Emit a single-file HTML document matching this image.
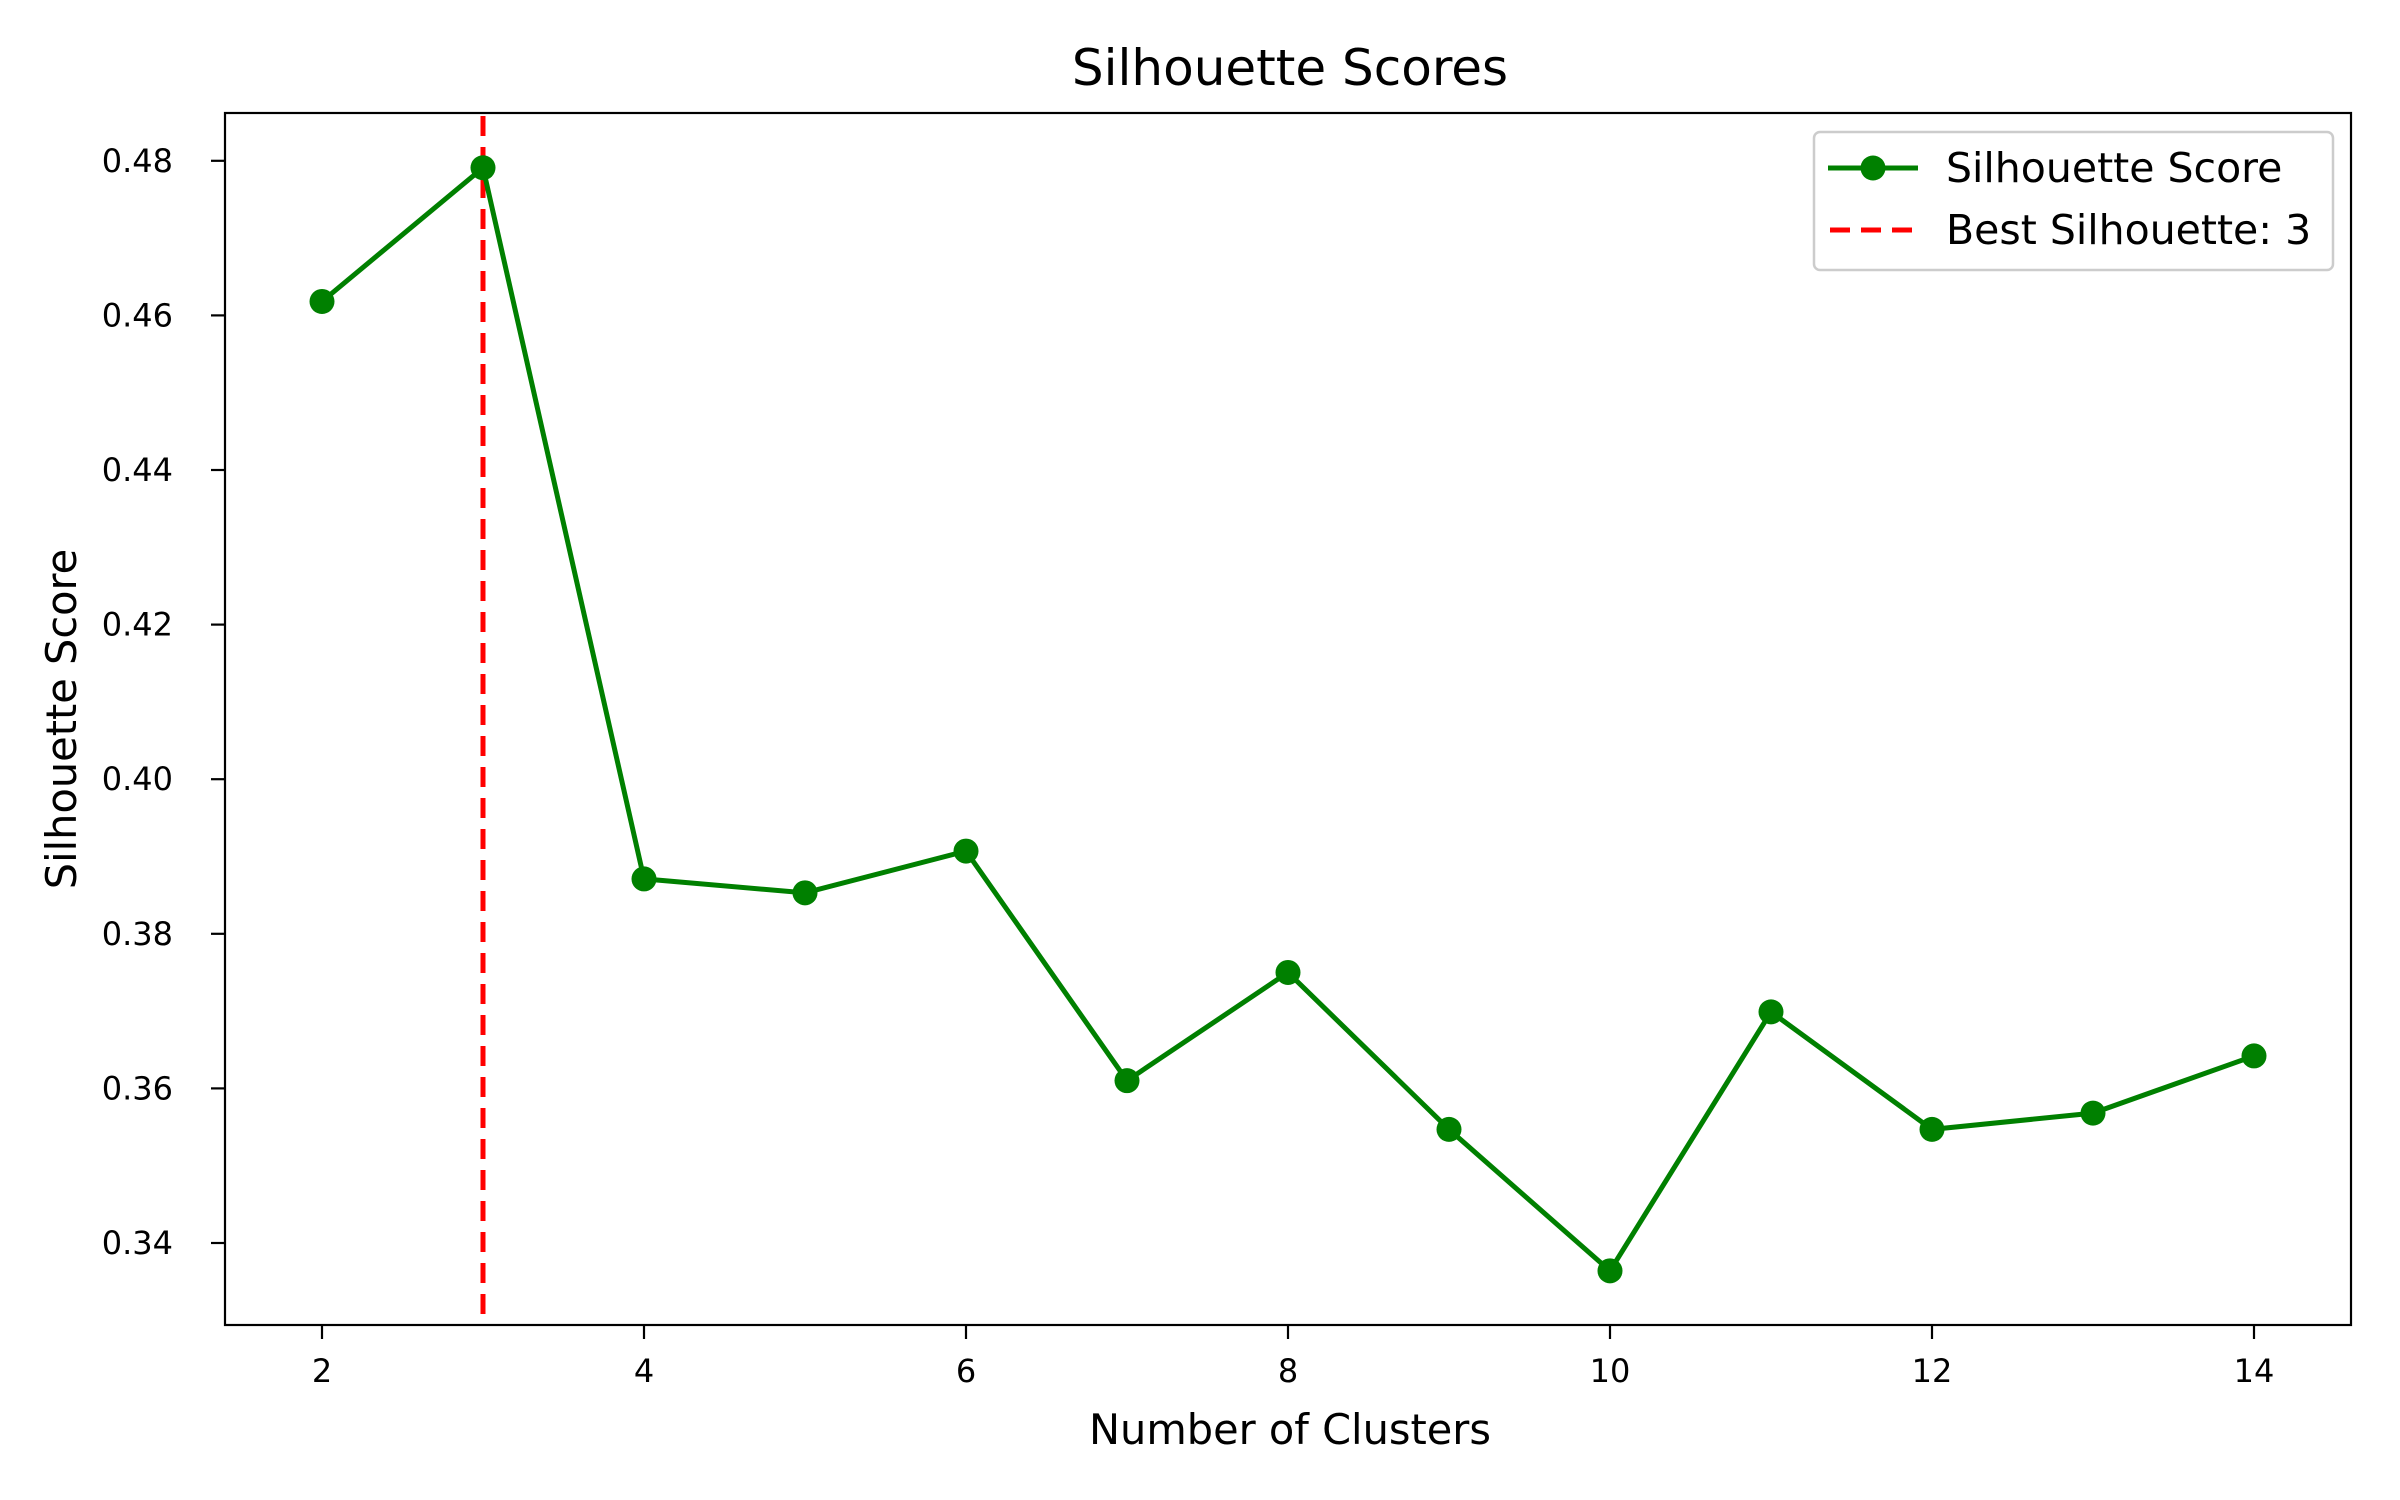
<!DOCTYPE html>
<html><head><meta charset="utf-8"><style>
html,body{margin:0;padding:0;background:#fff;}
svg{display:block;font-family:"DejaVu Sans","Liberation Sans",sans-serif;}
</style></head><body>
<svg id="chart" width="2400" height="1500" viewBox="0 0 2400 1500">
<rect width="2400" height="1500" fill="#fff"/>
<text x="1290" y="85" font-size="50" text-anchor="middle">Silhouette Scores</text>
<g id="grid"></g>
<g id="marks"></g>
<rect x="225" y="113" width="2126" height="1212" fill="none" stroke="#000" stroke-width="2.2"/>
<text x="1290" y="1444" font-size="41.5" text-anchor="middle">Number of Clusters</text>
<text transform="translate(76,719) rotate(-90)" font-size="41.5" text-anchor="middle">Silhouette Score</text>
<g>
<rect x="1814" y="132" width="519" height="138" rx="6" fill="#fff" fill-opacity="0.8" stroke="#ccc" stroke-width="2.5"/>
<g>
<line x1="1828" y1="168" x2="1918" y2="168" stroke="#008000" stroke-width="5"/>
<circle cx="1873" cy="168" r="12.5" fill="#008000"/>
<text x="1946" y="182" font-size="41">Silhouette Score</text>
</g>
<g>
<line x1="1830" y1="230" x2="1916" y2="230" stroke="#ff0000" stroke-width="5" stroke-dasharray="20,11"/>
<text x="1946" y="244" font-size="41">Best Silhouette: 3</text>
</g>
</g>
</svg>
<script>
const clusters=[2,3,4,5,6,7,8,9,10,11,12,13,14];
const scores=[0.4618,0.4791,0.3871,0.3853,0.3907,0.3610,0.3750,0.3547,0.3364,0.3699,0.3547,0.3568,0.3642];
const bestK=3;
const xTicks=[2,4,6,8,10,12,14];
const yTicks=[0.34,0.36,0.38,0.40,0.42,0.44,0.46,0.48];
const NS='http://www.w3.org/2000/svg';
function xs(v){return 322+(v-2)*161;}
function ys(v){return 1243-(v-0.34)/0.02*154.6;}
function mk(t,a,p){const e=document.createElementNS(NS,t);for(const k in a)e.setAttribute(k,a[k]);p.appendChild(e);return e;}
const g=document.getElementById('grid');
xTicks.forEach(v=>{
 const tk=mk('line',{x1:xs(v),x2:xs(v),y1:1325,y2:1339,stroke:'#000','stroke-width':2.2},g);
 
 
 const t=mk('text',{x:xs(v),y:1382,'font-size':32,'text-anchor':'middle'},g);t.textContent=v;
 
 
});
yTicks.forEach(v=>{
 const tk=mk('line',{x1:211,x2:225,y1:ys(v),y2:ys(v),stroke:'#000','stroke-width':2.2},g);
 
 
 const t=mk('text',{x:173,y:ys(v)+11,'font-size':32,'text-anchor':'end'},g);t.textContent=v.toFixed(2);
 
 
});
const m=document.getElementById('marks');
const bl=mk('line',{x1:xs(bestK),x2:xs(bestK),y1:116,y2:1324,stroke:'#ff0000','stroke-width':5,'stroke-dasharray':'20,11'},m);


const pl=mk('polyline',{points:clusters.map((c,i)=>xs(c)+','+ys(scores[i])).join(' '),fill:'none',stroke:'#008000','stroke-width':5},m);


clusters.forEach((c,i)=>{
 const p=mk('circle',{cx:xs(c),cy:ys(scores[i]),r:12.5,fill:'#008000'},m);
 
 
});
</script>
</body></html>
